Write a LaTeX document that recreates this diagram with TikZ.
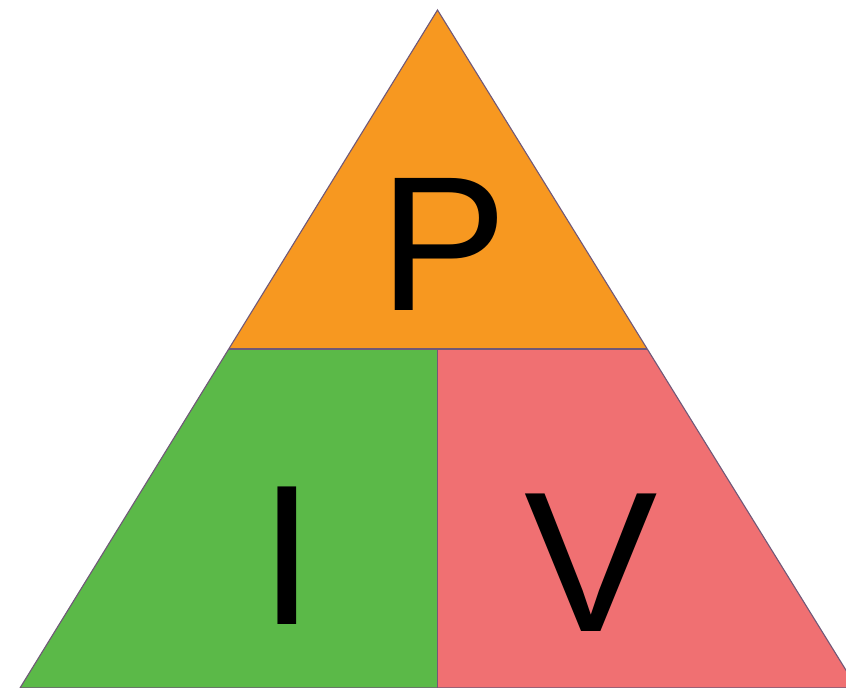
\documentclass[tikz,border=0pt]{standalone}
\usepackage{fontspec}
\setmainfont{Liberation Sans}
\definecolor{porange}{RGB}{247,152,32}
\definecolor{igreen}{RGB}{91,185,72}
\definecolor{vpink}{RGB}{240,112,114}
\definecolor{edgec}{RGB}{112,88,120}
\begin{document}
\begin{tikzpicture}[x=1pt,y=-1pt,
  edge/.style={draw=edgec,line width=1.1pt,line join=miter},
  letter/.style={inner sep=0pt,anchor=base,font=\fontsize{192}{192}\selectfont}]
\useasboundingbox (0,0) rectangle (846,688);
\clip (0,0) rectangle (846,688);
\fill[white] (0,0) rectangle (846,688);
\coordinate (A) at (437.5,10);
\coordinate (L) at (20,688);
\coordinate (R) at (857,688);
\coordinate (ML) at (228.8,349);
\coordinate (MR) at (647.2,349);
\coordinate (MM) at (437.5,349);
\coordinate (BM) at (437.5,688);
\fill[porange] (A) -- (MR) -- (ML) -- cycle;
\fill[igreen] (ML) -- (MM) -- (BM) -- (L) -- cycle;
\fill[vpink] (MM) -- (MR) -- (R) -- (BM) -- cycle;
\draw[edge] (A) -- (R) -- (L) -- cycle;
\draw[edge] (ML) -- (MR);
\draw[edge] (MM) -- (BM);
\node[letter] (p) at (444,310) {P};
\node[letter,font=\fontsize{200}{200}\selectfont] (i) at (287,624) {I};
\node[letter,font=\fontsize{200}{200}\selectfont] (v) at (591,631) {V};
\end{tikzpicture}
\end{document}
